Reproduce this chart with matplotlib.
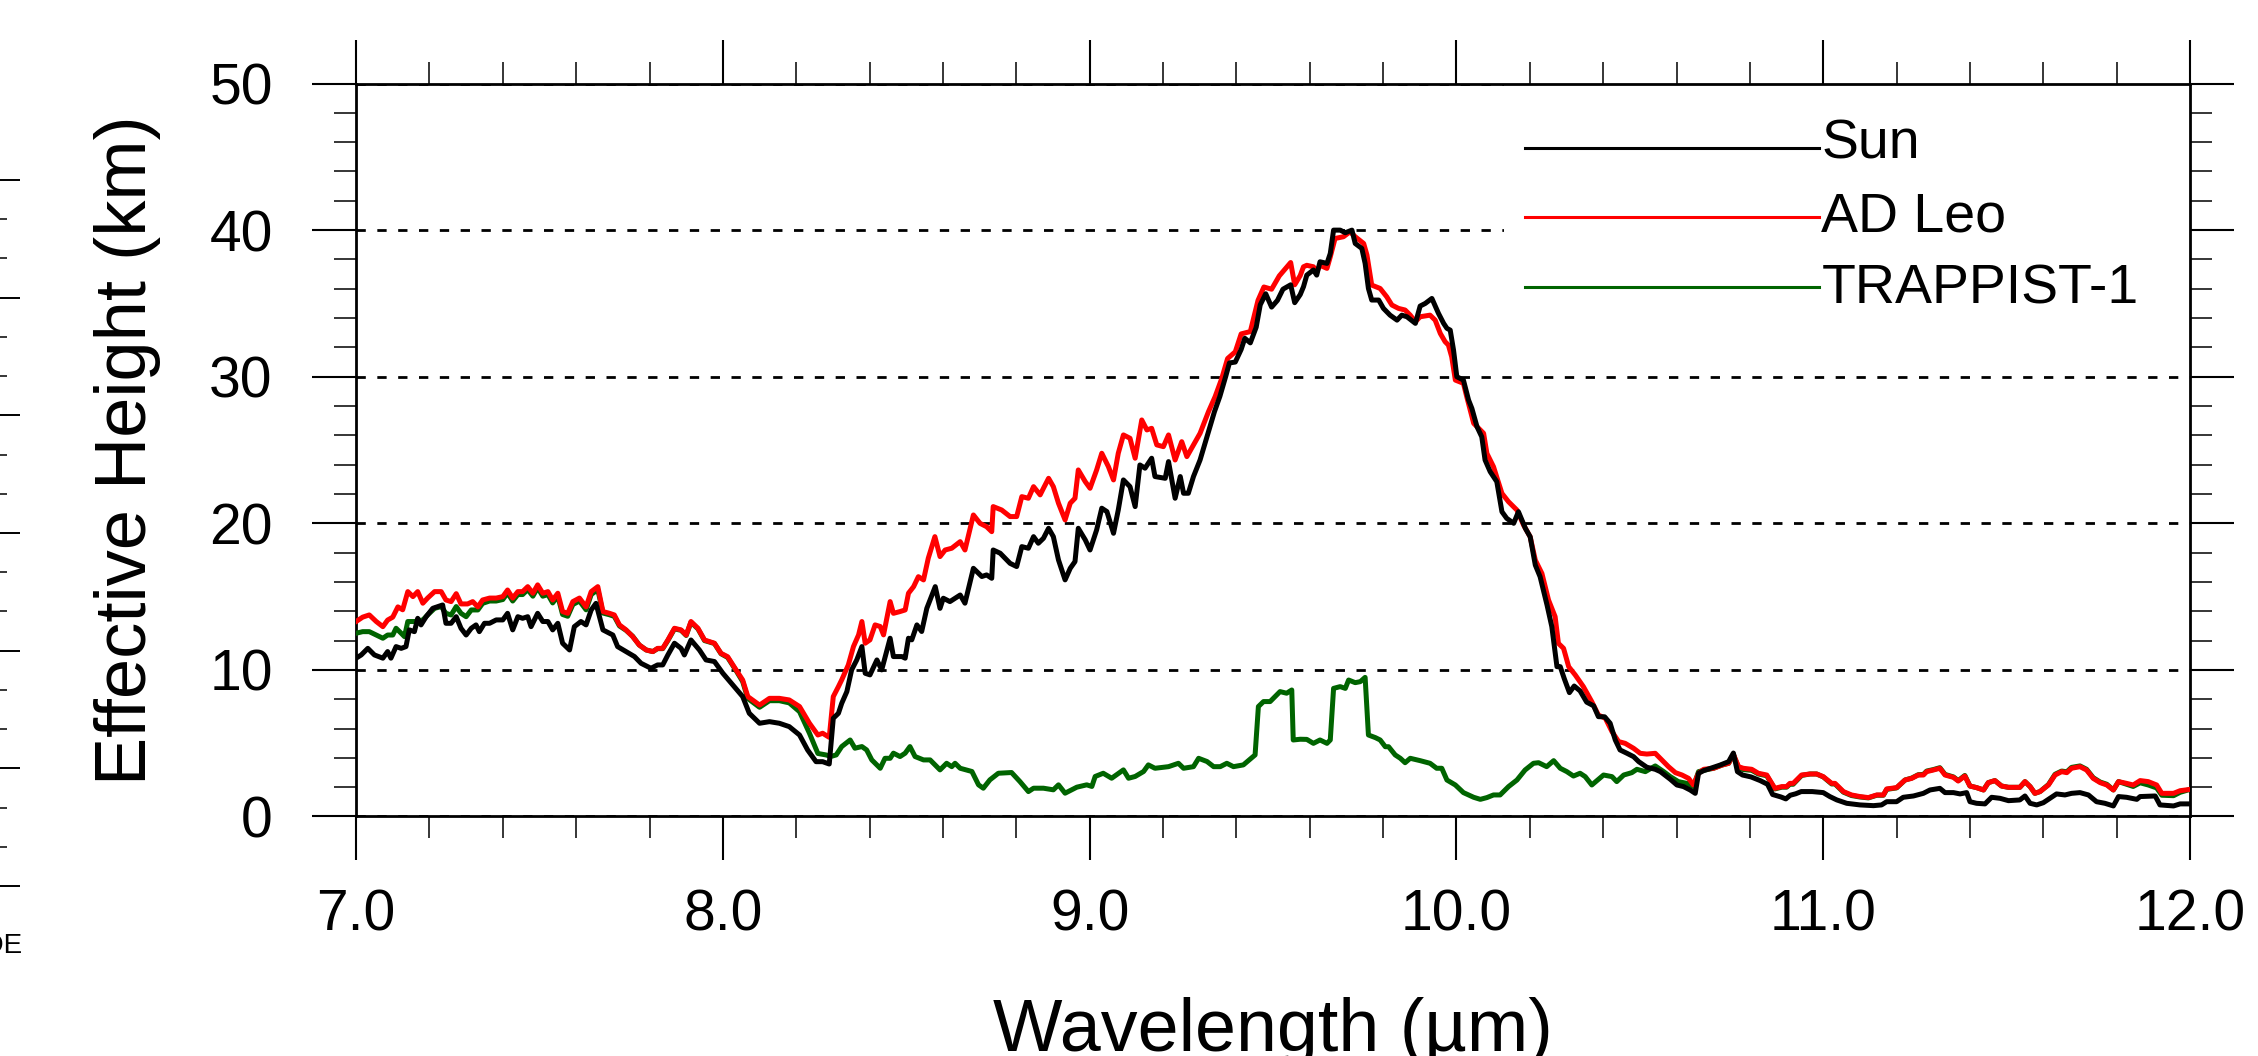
import numpy as np
import matplotlib
matplotlib.use("Agg")
import matplotlib.pyplot as plt
from matplotlib.patches import Rectangle
from matplotlib.ticker import MultipleLocator, FixedLocator

plt.rcParams['font.family'] = ['Liberation Sans', 'DejaVu Sans']

# Sun (black)
sun_x = [7.0, 7.014, 7.032, 7.05, 7.073, 7.086, 7.095, 7.109, 7.123, 7.136, 7.145, 7.159, 7.168, 7.177,
         7.191, 7.209, 7.236, 7.245, 7.259, 7.273, 7.286, 7.3, 7.314, 7.327, 7.336, 7.35, 7.364, 7.382,
         7.4, 7.413, 7.427, 7.441, 7.454, 7.468, 7.477, 7.495, 7.509, 7.523, 7.536, 7.55, 7.563, 7.582,
         7.595, 7.613, 7.627, 7.641, 7.654, 7.673, 7.7, 7.713, 7.736, 7.759, 7.777, 7.804, 7.822, 7.836,
         7.85, 7.868, 7.886, 7.895, 7.913, 7.936, 7.954, 7.977, 8.0, 8.027, 8.054, 8.072, 8.1, 8.127,
         8.154, 8.181, 8.209, 8.231, 8.254, 8.272, 8.29, 8.301, 8.315, 8.324, 8.338, 8.351, 8.365, 8.379,
         8.388, 8.401, 8.42, 8.433, 8.456, 8.465, 8.488, 8.497, 8.506, 8.515, 8.529, 8.542, 8.556, 8.579,
         8.592, 8.601, 8.619, 8.647, 8.66, 8.683, 8.706, 8.719, 8.733, 8.737, 8.756, 8.783, 8.801, 8.815,
         8.833, 8.847, 8.86, 8.874, 8.888, 8.901, 8.915, 8.933, 8.947, 8.96, 8.969, 8.988, 9.001, 9.019,
         9.033, 9.047, 9.065, 9.078, 9.092, 9.11, 9.124, 9.137, 9.151, 9.169, 9.178, 9.206, 9.215, 9.233,
         9.247, 9.256, 9.269, 9.283, 9.301, 9.324, 9.34, 9.355, 9.371, 9.381, 9.397, 9.413, 9.423, 9.438,
         9.454, 9.465, 9.48, 9.496, 9.512, 9.527, 9.548, 9.559, 9.574, 9.583, 9.592, 9.61, 9.619, 9.628,
         9.647, 9.656, 9.665, 9.683, 9.697, 9.715, 9.724, 9.742, 9.751, 9.76, 9.769, 9.788, 9.801, 9.819,
         9.838, 9.851, 9.865, 9.888, 9.901, 9.915, 9.933, 9.951, 9.965, 9.974, 9.983, 9.992, 10.001,
         10.019, 10.033, 10.042, 10.056, 10.069, 10.078, 10.092, 10.11, 10.124, 10.137, 10.156, 10.169,
         10.188, 10.201, 10.215, 10.228, 10.247, 10.26, 10.274, 10.283, 10.294, 10.308, 10.321, 10.337,
         10.355, 10.374, 10.387, 10.404, 10.419, 10.433, 10.446, 10.465, 10.483, 10.497, 10.519, 10.542,
         10.556, 10.583, 10.601, 10.619, 10.637, 10.651, 10.66, 10.674, 10.701, 10.719, 10.742, 10.755,
         10.766, 10.78, 10.803, 10.828, 10.848, 10.862, 10.885, 10.898, 10.91, 10.925, 10.94, 10.97, 11.0,
         11.018, 11.037, 11.064, 11.1, 11.137, 11.159, 11.173, 11.2, 11.218, 11.246, 11.273, 11.291,
         11.318, 11.332, 11.355, 11.373, 11.391, 11.4, 11.418, 11.441, 11.459, 11.482, 11.505, 11.536,
         11.55, 11.564, 11.582, 11.6, 11.618, 11.636, 11.659, 11.677, 11.7, 11.723, 11.745, 11.768,
         11.791, 11.805, 11.827, 11.855, 11.864, 11.905, 11.918, 11.955, 11.973, 12.0]
sun_y = [10.8, 11.02, 11.47, 11.02, 10.8, 11.25, 10.8, 11.59, 11.47, 11.59, 12.73, 12.61, 13.52, 13.07,
         13.63, 14.2, 14.43, 13.18, 13.18, 13.63, 12.84, 12.38, 12.84, 13.07, 12.61, 13.18, 13.18, 13.41,
         13.41, 13.86, 12.73, 13.63, 13.52, 13.63, 12.95, 13.86, 13.3, 13.3, 12.73, 13.18, 11.82, 11.36,
         12.95, 13.3, 13.07, 14.09, 14.54, 12.73, 12.38, 11.59, 11.25, 10.91, 10.45, 10.11, 10.34, 10.34,
         11.02, 11.82, 11.47, 11.02, 12.04, 11.36, 10.68, 10.57, 9.77, 8.97, 8.18, 7.04, 6.36, 6.47,
         6.36, 6.13, 5.56, 4.54, 3.74, 3.74, 3.58, 6.7, 7.04, 7.72, 8.52, 10.0, 10.68, 11.59,
         9.77, 9.66, 10.68, 10.0, 12.16, 10.91, 10.91, 10.8, 12.16, 12.05, 13.07, 12.62, 14.2, 15.68,
         14.2, 14.89, 14.66, 15.11, 14.55, 16.93, 16.37, 16.48, 16.25, 18.18, 17.96, 17.27, 17.05, 18.41,
         18.3, 19.09, 18.64, 18.98, 19.66, 19.09, 17.5, 16.14, 16.93, 17.39, 19.66, 18.87, 18.18, 19.55,
         21.03, 20.8, 19.32, 20.91, 22.96, 22.5, 21.14, 23.98, 23.76, 24.44, 23.19, 23.07, 24.21, 21.71,
         23.19, 22.05, 22.05, 23.19, 24.32, 26.26, 27.6, 28.66, 30.03, 30.94, 31.0, 31.86, 32.62, 32.31,
         33.38, 34.9, 35.66, 34.75, 35.21, 35.97, 36.27, 35.05, 35.6, 36.14, 36.93, 37.28, 36.93, 37.84,
         37.73, 38.41, 40.0, 40.0, 39.82, 40.0, 39.09, 38.75, 37.73, 36.02, 35.23, 35.23, 34.66, 34.2,
         33.86, 34.2, 34.09, 33.64, 34.82, 35.0, 35.34, 34.32, 33.64, 33.3, 33.18, 31.82, 30.0,
         29.77, 28.41, 27.84, 26.59, 25.9, 24.32, 23.52, 22.84, 20.79, 20.34, 20.0, 20.79,
         19.65, 19.08, 17.15, 16.36, 14.42, 12.95, 10.22, 10.22, 9.4, 8.45, 8.9, 8.57,
         7.8, 7.55, 6.81, 6.8, 6.36, 5.22, 4.54, 4.31, 4.08, 3.74, 3.36, 3.22,
         3.06, 2.54, 2.15, 2.04, 1.81, 1.58, 2.95, 3.13, 3.36, 3.51, 3.74, 4.33,
         3.06, 2.83, 2.7, 2.45, 2.2, 1.5, 1.33, 1.2, 1.45, 1.55, 1.7, 1.7, 1.63,
         1.36, 1.13, 0.9, 0.79, 0.74, 0.79, 1.01, 1.01, 1.31, 1.4, 1.58, 1.81,
         1.92, 1.63, 1.63, 1.54, 1.63, 1.01, 0.9, 0.86, 1.31, 1.24, 1.08, 1.13,
         1.4, 0.9, 0.79, 0.94, 1.24, 1.54, 1.47, 1.58, 1.63, 1.47, 1.01, 0.9,
         0.72, 1.36, 1.31, 1.17, 1.36, 1.4, 0.79, 0.72, 0.86, 0.86]

# AD Leo (red)
adleo_x = [7.0, 7.018, 7.036, 7.055, 7.073, 7.086, 7.1, 7.114, 7.127, 7.141, 7.155, 7.168, 7.182, 7.195,
           7.214, 7.232, 7.245, 7.259, 7.273, 7.286, 7.304, 7.318, 7.332, 7.345, 7.364, 7.382, 7.4, 7.413,
           7.427, 7.441, 7.454, 7.468, 7.482, 7.495, 7.509, 7.523, 7.536, 7.55, 7.563, 7.577, 7.591, 7.609,
           7.627, 7.641, 7.659, 7.673, 7.691, 7.704, 7.718, 7.736, 7.754, 7.772, 7.791, 7.809, 7.822, 7.836,
           7.85, 7.868, 7.886, 7.9, 7.913, 7.932, 7.95, 7.977, 7.995, 8.013, 8.036, 8.054, 8.068, 8.1,
           8.127, 8.154, 8.181, 8.209, 8.236, 8.259, 8.272, 8.29, 8.301, 8.315, 8.324, 8.342, 8.356, 8.37,
           8.379, 8.388, 8.401, 8.415, 8.429, 8.438, 8.456, 8.465, 8.483, 8.497, 8.506, 8.52, 8.533, 8.547,
           8.56, 8.578, 8.592, 8.606, 8.624, 8.647, 8.66, 8.683, 8.701, 8.719, 8.733, 8.737, 8.76, 8.783,
           8.801, 8.815, 8.833, 8.847, 8.865, 8.874, 8.888, 8.901, 8.915, 8.933, 8.947, 8.96, 8.969, 8.988,
           9.001, 9.019, 9.033, 9.051, 9.065, 9.078, 9.092, 9.11, 9.124, 9.142, 9.156, 9.169, 9.183, 9.201,
           9.215, 9.233, 9.251, 9.265, 9.283, 9.301, 9.324, 9.342, 9.36, 9.376, 9.397, 9.413, 9.438, 9.459,
           9.475, 9.496, 9.517, 9.548, 9.559, 9.574, 9.583, 9.592, 9.61, 9.619, 9.628, 9.647, 9.656, 9.669,
           9.692, 9.71, 9.724, 9.747, 9.756, 9.769, 9.792, 9.81, 9.824, 9.842, 9.86, 9.874, 9.888, 9.901,
           9.928, 9.942, 9.956, 9.969, 9.978, 9.987, 9.997, 10.019, 10.028, 10.047, 10.074, 10.083, 10.101,
           10.124, 10.142, 10.165, 10.183, 10.201, 10.215, 10.233, 10.251, 10.269, 10.278, 10.292, 10.306,
           10.324, 10.346, 10.369, 10.387, 10.406, 10.424, 10.442, 10.46, 10.483, 10.501, 10.519, 10.542,
           10.56, 10.578, 10.597, 10.615, 10.633, 10.646, 10.66, 10.674, 10.701, 10.724, 10.742, 10.755,
           10.769, 10.782, 10.805, 10.823, 10.846, 10.86, 10.868, 10.887, 10.9, 10.909, 10.918, 10.941,
           10.964, 10.982, 11.0, 11.023, 11.032, 11.055, 11.077, 11.1, 11.123, 11.146, 11.164, 11.173, 11.2,
           11.223, 11.241, 11.259, 11.273, 11.282, 11.3, 11.318, 11.332, 11.355, 11.368, 11.386, 11.4,
           11.418, 11.437, 11.45, 11.468, 11.486, 11.505, 11.536, 11.55, 11.564, 11.577, 11.591, 11.614,
           11.632, 11.65, 11.664, 11.677, 11.7, 11.718, 11.736, 11.755, 11.773, 11.791, 11.805, 11.827,
           11.845, 11.864, 11.886, 11.909, 11.923, 11.955, 11.973, 12.0]
adleo_y = [13.3, 13.6, 13.75, 13.3, 12.95, 13.4, 13.6, 14.3, 14.1, 15.34, 15.0, 15.34, 14.55, 14.9,
           15.34, 15.34, 14.77, 14.66, 15.2, 14.5, 14.5, 14.66, 14.3, 14.77, 14.9, 14.9, 15.0, 15.45,
           14.9, 15.34, 15.34, 15.68, 15.23, 15.8, 15.23, 15.34, 14.77, 15.23, 13.98, 13.86, 14.66, 14.9,
           14.3, 15.34, 15.68, 13.98, 13.86, 13.75, 13.07, 12.73, 12.27, 11.7, 11.36, 11.25, 11.47, 11.47,
           12.04, 12.84, 12.73, 12.38, 13.3, 12.84, 12.04, 11.82, 11.13, 10.9, 10.0, 9.31, 8.18, 7.6,
           8.06, 8.06, 7.95, 7.5, 6.36, 5.56, 5.68, 5.4, 8.18, 8.86, 9.32, 10.34, 11.59, 12.39,
           13.3, 11.82, 12.05, 13.07, 12.96, 12.39, 14.66, 13.86, 13.98, 14.09, 15.23, 15.68, 16.36, 16.14,
           17.62, 19.09, 17.73, 18.18, 18.3, 18.75, 18.18, 20.57, 20.0, 19.77, 19.43, 21.14, 20.91, 20.46,
           20.46, 21.82, 21.71, 22.5, 21.94, 22.39, 23.07, 22.5, 21.37, 20.23, 21.37, 21.71, 23.64, 22.84,
           22.39, 23.64, 24.78, 23.87, 22.96, 24.78, 26.03, 25.8, 24.44, 27.05, 26.37, 26.48, 25.35, 25.23,
           26.03, 24.32, 25.57, 24.55, 25.35, 26.14, 27.62, 28.64, 29.87, 31.24, 31.7, 32.92, 33.08, 35.21,
           36.12, 35.97, 36.88, 37.79, 36.27, 36.9, 37.5, 37.6, 37.5, 37.16, 37.6, 37.39, 38.18, 39.43,
           39.55, 39.89, 39.55, 39.09, 38.3, 36.25, 36.02, 35.45, 34.89, 34.66, 34.55, 34.2, 33.75, 34.09,
           34.2, 33.86, 32.95, 32.39, 32.16, 31.36, 29.77, 29.55, 28.64, 26.82, 26.14, 24.77, 23.86,
           22.04, 21.47, 20.9, 19.88, 19.08, 17.49, 16.58, 14.77, 13.63, 11.81, 11.47, 10.22,
           9.65, 8.86, 7.83, 6.92, 6.7, 5.79, 5.11, 4.99, 4.65, 4.31, 4.26, 4.31,
           3.86, 3.4, 2.99, 2.83, 2.6, 2.15, 2.95, 3.22, 3.29, 3.51, 3.63, 4.25,
           3.4, 3.29, 3.22, 2.95, 2.83, 2.26, 1.92, 2.04, 2.04, 2.26, 2.26, 2.83,
           2.9, 2.9, 2.72, 2.26, 2.26, 1.7, 1.47, 1.36, 1.29, 1.47, 1.47, 1.88, 1.97,
           2.49, 2.6, 2.83, 2.83, 3.06, 3.17, 3.29, 2.83, 2.67, 2.42, 2.76, 2.08,
           1.97, 1.81, 2.31, 2.45, 2.08, 1.99, 1.99, 2.38, 2.04, 1.58, 1.7, 2.15,
           2.83, 3.06, 2.99, 3.29, 3.4, 3.17, 2.6, 2.31, 2.15, 1.81, 2.38, 2.26,
           2.15, 2.45, 2.38, 2.15, 1.58, 1.58, 1.76, 1.85]

# TRAPPIST-1 (green)
trap_x = [7.0, 7.018, 7.036, 7.055, 7.073, 7.086, 7.1, 7.109, 7.123, 7.132, 7.141, 7.159, 7.182, 7.195,
          7.214, 7.232, 7.245, 7.259, 7.273, 7.286, 7.3, 7.314, 7.332, 7.345, 7.364, 7.382, 7.4, 7.413,
          7.427, 7.441, 7.454, 7.468, 7.482, 7.495, 7.509, 7.523, 7.536, 7.55, 7.563, 7.577, 7.591, 7.609,
          7.627, 7.641, 7.659, 7.673, 7.691, 7.704, 7.718, 7.736, 7.754, 7.772, 7.791, 7.809, 7.822, 7.836,
          7.85, 7.868, 7.886, 7.9, 7.913, 7.932, 7.95, 7.977, 7.995, 8.013, 8.036, 8.054, 8.068, 8.1,
          8.127, 8.154, 8.181, 8.209, 8.236, 8.259, 8.281, 8.295, 8.309, 8.324, 8.347, 8.36, 8.379, 8.392,
          8.406, 8.429, 8.442, 8.456, 8.465, 8.483, 8.497, 8.51, 8.524, 8.547, 8.565, 8.592, 8.61, 8.624,
          8.633, 8.647, 8.679, 8.697, 8.71, 8.728, 8.751, 8.787, 8.81, 8.833, 8.847, 8.874, 8.901, 8.915,
          8.933, 8.965, 8.992, 9.006, 9.015, 9.037, 9.06, 9.092, 9.106, 9.124, 9.147, 9.16, 9.178, 9.215,
          9.242, 9.256, 9.283, 9.297, 9.32, 9.338, 9.356, 9.374, 9.392, 9.419, 9.451, 9.46, 9.474, 9.492,
          9.519, 9.537, 9.551, 9.555, 9.574, 9.592, 9.61, 9.628, 9.647, 9.656, 9.665, 9.683, 9.697, 9.706,
          9.724, 9.738, 9.751, 9.76, 9.779, 9.792, 9.806, 9.815, 9.833, 9.847, 9.86, 9.874, 9.901, 9.928,
          9.946, 9.96, 9.974, 9.997, 10.019, 10.047, 10.065, 10.083, 10.101, 10.119, 10.142, 10.165, 10.187,
          10.21, 10.224, 10.246, 10.265, 10.283, 10.301, 10.319, 10.337, 10.351, 10.369, 10.383, 10.401,
          10.424, 10.437, 10.456, 10.478, 10.492, 10.515, 10.542, 10.565, 10.583, 10.605, 10.628, 10.646,
          10.66, 10.678, 10.701, 10.724, 10.742, 10.755, 10.769, 10.782, 10.805, 10.823, 10.846, 10.86,
          10.868, 10.887, 10.9, 10.909, 10.918, 10.941, 10.964, 10.982, 11.0, 11.023, 11.032, 11.055,
          11.077, 11.1, 11.123, 11.146, 11.164, 11.173, 11.2, 11.223, 11.241, 11.259, 11.273, 11.282, 11.3,
          11.318, 11.332, 11.355, 11.368, 11.386, 11.4, 11.418, 11.437, 11.45, 11.468, 11.486, 11.505,
          11.536, 11.55, 11.564, 11.577, 11.591, 11.614, 11.632, 11.65, 11.664, 11.677, 11.7, 11.718,
          11.736, 11.755, 11.773, 11.791, 11.805, 11.827, 11.845, 11.864, 11.886, 11.909, 11.923, 11.955,
          11.973, 12.0]
trap_y = [12.5, 12.61, 12.61, 12.38, 12.16, 12.38, 12.38, 12.84, 12.5, 12.27, 13.3, 13.3, 13.41, 13.75,
          14.2, 14.32, 13.86, 13.75, 14.32, 13.86, 13.63, 14.09, 14.09, 14.54, 14.7, 14.7, 14.8, 15.25,
          14.7, 15.14, 15.14, 15.48, 15.03, 15.6, 15.03, 15.14, 14.57, 15.03, 13.78, 13.66, 14.46, 14.7,
          14.1, 15.14, 15.48, 13.88, 13.76, 13.65, 13.0, 12.7, 12.3, 11.7, 11.36, 11.25, 11.45, 11.45,
          12.0, 12.8, 12.7, 12.35, 13.25, 12.8, 12.0, 11.8, 11.1, 10.85, 9.95, 9.2, 8.05, 7.45,
          7.9, 7.9, 7.75, 7.15, 5.68, 4.3, 4.2, 4.1, 4.2, 4.77, 5.22, 4.66, 4.77, 4.54,
          3.86, 3.29, 3.97, 3.97, 4.32, 4.09, 4.32, 4.77, 4.09, 3.86, 3.86, 3.18, 3.63, 3.4,
          3.63, 3.29, 3.07, 2.16, 1.93, 2.5, 2.95, 3.0, 2.38, 1.7, 1.93, 1.93, 1.82, 2.16,
          1.59, 2.0, 2.16, 2.05, 2.73, 2.95, 2.61, 3.18, 2.61, 2.73, 3.07, 3.52, 3.29, 3.4,
          3.63, 3.29, 3.4, 3.97, 3.75, 3.4, 3.4, 3.63, 3.4, 3.52, 4.2, 7.5, 7.84, 7.84,
          8.52, 8.41, 8.63, 5.22, 5.27, 5.26, 4.99, 5.22, 4.99, 5.22, 8.74, 8.86, 8.74, 9.31,
          9.13, 9.2, 9.49, 5.56, 5.38, 5.22, 4.76, 4.76, 4.2, 3.97, 3.67, 3.97, 3.81, 3.63,
          3.29, 3.29, 2.49, 2.15, 1.63, 1.31, 1.17, 1.29, 1.47, 1.47, 2.04, 2.49, 3.17,
          3.63, 3.67, 3.4, 3.81, 3.29, 3.06, 2.76, 2.95, 2.72, 2.15, 2.45, 2.83,
          2.72, 2.38, 2.83, 2.99, 3.22, 3.06, 3.45, 3.06, 2.72, 2.38, 2.26, 2.04,
          3.06, 3.17, 3.29, 3.51, 3.63, 4.2, 3.35, 3.2, 3.15, 2.9, 2.78, 2.2,
          1.88, 2.0, 2.0, 2.2, 2.2, 2.8, 2.9, 2.9, 2.7, 2.22, 2.22, 1.66,
          1.43, 1.33, 1.27, 1.45, 1.45, 1.85, 1.95, 2.49, 2.62, 2.85, 2.87, 3.1, 3.2,
          3.33, 2.87, 2.7, 2.45, 2.8, 2.08, 1.97, 1.81, 2.31, 2.45, 2.08, 1.99,
          1.99, 2.38, 2.04, 1.58, 1.7, 2.18, 2.88, 3.1, 3.05, 3.35, 3.45, 3.22,
          2.65, 2.35, 2.2, 1.81, 2.38, 2.2, 2.05, 2.3, 2.15, 1.95, 1.45, 1.42,
          1.65, 1.85]

labels = ["Sun", "AD Leo", "TRAPPIST-1"]
colors = ["black", "red", "#006400"]
x_ticks = [7.0, 8.0, 9.0, 10.0, 11.0, 12.0]
y_ticks = [0, 10, 20, 30, 40, 50]

fig = plt.figure(figsize=(22.58, 10.56), dpi=100)
ax = fig.add_axes([0.1577, 0.2268, 0.8122, 0.6941])

ax.plot(trap_x, trap_y, color=colors[2], lw=3.6, zorder=3)
ax.plot(adleo_x, adleo_y, color=colors[1], lw=3.6, zorder=4)
ax.plot(sun_x, sun_y, color=colors[0], lw=3.6, zorder=5)

ax.set_xlim(7, 12)
ax.set_ylim(0, 50)
ax.xaxis.set_major_locator(FixedLocator(x_ticks))
ax.set_xticklabels(["%.1f" % v for v in x_ticks])
ax.xaxis.set_minor_locator(MultipleLocator(0.2))
ax.yaxis.set_major_locator(FixedLocator(y_ticks))
ax.yaxis.set_minor_locator(MultipleLocator(2))

ax.tick_params(which='both', direction='out', top=True, right=True)
ax.tick_params(which='major', length=32, width=1.5, labelsize=41)
ax.tick_params(which='minor', length=16, width=1.1)
ax.tick_params(axis='x', which='major', pad=20)
ax.tick_params(axis='y', which='major', pad=28)
for sp in ax.spines.values():
    sp.set_linewidth(2.0)

# dashed horizontal grid
ax.set_axisbelow(True)
ax.yaxis.grid(True, which='major', color='black', lw=2.0, ls=(0, (3.35, 4.15)))

# white patch behind the legend hides the grid there
ax.add_patch(Rectangle((0.626, 0.68), 0.374, 0.32, transform=ax.transAxes,
                       facecolor='white', edgecolor='none', zorder=1))

# legend: line followed by label
leg_line_y = [0.912, 0.818, 0.722]
leg_text_y = [0.898, 0.798, 0.7005]
for lab, col, ly, ty in zip(labels, colors, leg_line_y, leg_text_y):
    ax.plot([0.6374, 0.7977], [ly, ly], color=col, lw=2.2, transform=ax.transAxes,
            clip_on=False, zorder=6)
    ax.text(0.799, ty, lab, transform=ax.transAxes, fontsize=40, va='baseline', ha='left', zorder=6)

ax.set_ylabel("Effective Height (km)", fontsize=52, va='center')
ax.yaxis.set_label_coords(-0.1249, 0.5)
ax.set_xlabel("Wavelength (\u00b5m)", fontsize=53, va='top')
ax.xaxis.set_label_coords(0.5, -0.246)

# remnant of the neighbouring panel at the left edge
ax0 = fig.add_axes([-0.05, 0.161, 0.05, 0.6685])
ax0.set_ylim(0, 6)
ax0.yaxis.set_major_locator(MultipleLocator(1))
ax0.yaxis.set_minor_locator(MultipleLocator(1 / 3))
ax0.set_xticks([])
ax0.tick_params(axis='y', which='both', left=False, right=True, labelleft=False, direction='out')
ax0.tick_params(axis='y', which='major', length=14.4, width=1.4)
ax0.tick_params(axis='y', which='minor', length=5, width=1.1)
for sp in ax0.spines.values():
    sp.set_visible(False)
ax0.patch.set_visible(False)
fig.text(23 / 2258, 1 - 946 / 1056, "ODE", ha='right', va='center', fontsize=20)

fig.savefig("out.png", dpi=100)
